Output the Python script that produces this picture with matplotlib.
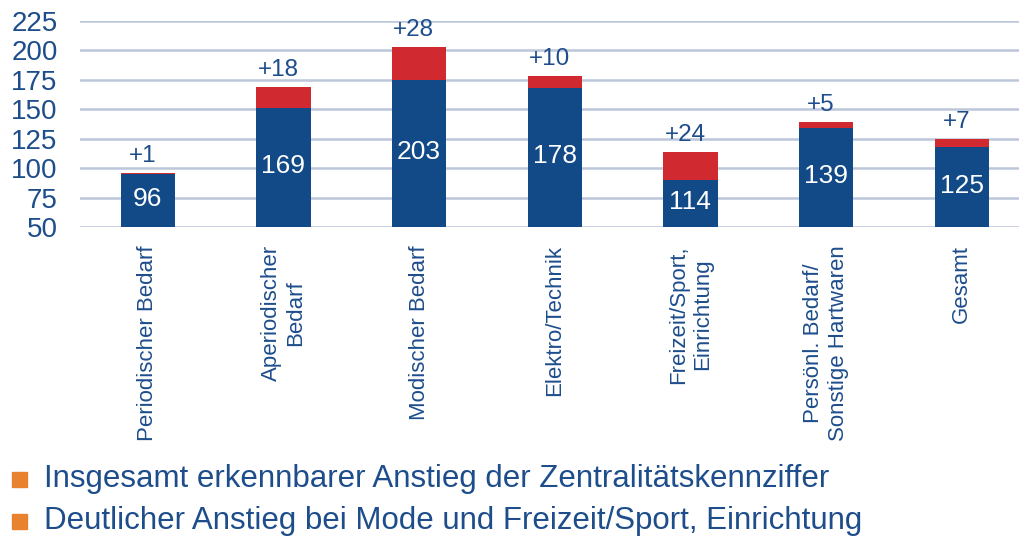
import matplotlib
matplotlib.use("Agg")
import matplotlib.pyplot as plt
from matplotlib.patches import Rectangle

categories = ["Periodischer Bedarf", "Aperiodischer\nBedarf", "Modischer Bedarf",
              "Elektro/Technik", "Freizeit/Sport,\nEinrichtung",
              "Persönl. Bedarf/\nSonstige Hartwaren", "Gesamt"]
totals = [96, 169, 203, 178, 114, 139, 125]
increase = [1, 18, 28, 10, 24, 5, 7]
base = [t - d for t, d in zip(totals, increase)]
yticks = [50, 75, 100, 125, 150, 175, 200, 225]
bullets = ["Insgesamt erkennbarer Anstieg der Zentralitätskennziffer",
           "Deutlicher Anstieg bei Mode und Freizeit/Sport, Einrichtung"]

BLUE = "#114a87"
RED = "#d0292f"
TEXT = "#1d4d8b"
GRID = "#bcc7da"
ORANGE = "#e9822f"

plt.rcParams["font.family"] = ["Liberation Sans", "DejaVu Sans"]

fig = plt.figure(figsize=(10.2, 5.4), dpi=100)
ax = fig.add_axes([0.0784, 0.5796, 0.9216, 0.3815])

x = range(len(categories))
ax.bar(x, base, width=0.4, bottom=0, color=BLUE, zorder=3)
ax.bar(x, increase, width=0.4, bottom=base, color=RED, zorder=3)

for i in x:
    ax.text(i, (50 + base[i]) / 2 + 1, str(totals[i]), ha="center", va="center",
            color="white", fontsize=19, zorder=4)
    ax.text(i - 0.04, totals[i] + 5, f"+{increase[i]}", ha="center", va="bottom",
            color=TEXT, fontsize=17.5, zorder=4)

ax.set_ylim(50, 225)
ax.set_xlim(-0.5, 6.43)
ax.set_yticks(yticks)
ax.set_yticklabels([str(v) for v in yticks], fontsize=20, color=TEXT)
ax.set_xticks(list(x))
ax.set_xticklabels(categories, rotation=90, fontsize=16, color=TEXT,
                   ha="center", va="top", multialignment="center")
ax.tick_params(axis="y", length=0, pad=16)
ax.tick_params(axis="x", length=0, pad=13)
ax.grid(axis="y", color=GRID, linewidth=1.8, zorder=0)
for s in ax.spines.values():
    s.set_visible(False)

for k, line in enumerate(bullets):
    yc = 1 - (479 + 42 * k) / 540
    fig.patches.append(Rectangle((12 / 1020, yc - 7.5 / 540), 15 / 1020, 15 / 540,
                                 transform=fig.transFigure, color=ORANGE))
    fig.text(44 / 1020, yc, line, ha="left", va="center", color=TEXT, fontsize=22.5)

fig.savefig("out.png", dpi=100)
